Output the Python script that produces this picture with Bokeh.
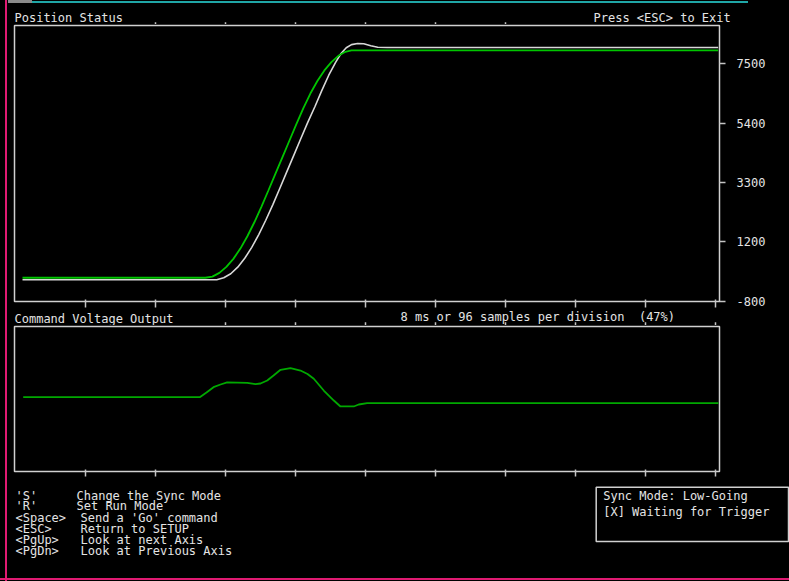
from bokeh.plotting import figure
from bokeh.models import LinearAxis, FixedTicker, Range1d, GlobalInlineStyleSheet
from bokeh.layouts import column
from bokeh.embed import file_html
from bokeh.resources import INLINE
from bokeh.core.properties import value

# ---------------- data ----------------
# Position status (counts) vs time (ms)
cmd_time_ms = [0.8, 21.7, 22.5, 23.3, 24.1, 24.9, 25.7, 26.5, 27.3, 28.1, 28.9, 29.7, 30.5, 31.3,
               32.1, 32.9, 33.7, 34.5, 35.3, 36.1, 36.9, 37.7, 38.4, 80.3]
cmd_position = [20, 20, 60, 190, 400, 680, 1040, 1470, 1960, 2500, 3070, 3650, 4230, 4810,
                5390, 5950, 6460, 6900, 7270, 7560, 7780, 7920, 7966, 7966]

act_time_ms = [0.8, 23.0, 23.8, 24.6, 25.4, 26.2, 27.0, 27.8, 28.6, 29.4, 30.2, 31.0, 31.8, 32.6,
               33.4, 34.2, 35.0, 35.8, 36.6, 37.2, 37.8, 38.4, 39.1, 39.8, 40.6, 41.4, 42.5, 80.3]
act_position = [-50, -50, 20, 160, 390, 700, 1080, 1530, 2030, 2570, 3140, 3720, 4300, 4880,
                5450, 5990, 6560, 7100, 7560, 7860, 8060, 8170, 8210, 8200, 8130, 8080, 8070, 8070]

# Command voltage output (V) vs time (ms)
volt_time_ms = [0.88, 21.06, 21.83, 22.63, 23.43, 24.19, 26.48, 27.43, 28.0, 28.77, 29.49, 30.29,
                31.43, 32.57, 33.37, 34.09, 35.23, 36.38, 37.14, 38.66, 39.23, 40.19, 80.34]
volt_output = [0.25, 0.25, 0.90, 1.63, 2.00, 2.28, 2.23, 2.04, 2.14, 2.55, 3.24, 4.03,
               4.25, 3.93, 3.45, 2.79, 1.17, -0.21, -1.03, -1.03, -0.76, -0.58, -0.58]

x_division_ticks = [8, 16, 24, 32, 40, 48, 56, 64, 72, 80]
top_edge_ticks_1 = [16, 24, 32, 40, 48, 56]          # visible top ticks, position panel
top_edge_ticks_2 = [24, 32, 40, 48, 56, 64, 72, 80]  # visible top ticks, voltage panel
pos_tick_values = [-800, 1275, 3350, 5425, 7500]
pos_tick_labels = ["-800", "1200", "3300", "5400", "7500"]

panel_titles = ["Position Status", "Press <ESC> to Exit"]
mid_texts = ["8 ms or 96 samples per division \u00a0(47%)", "Command Voltage Output"]
help_keys = ["'S'", "'R'", "<Space>", "<ESC>", "<PgUp>", "<PgDn>"]
help_desc = ["Change the Sync Mode", "Set Run Mode", "Send a 'Go' command",
             "Return to SETUP", "Look at next Axis", "Look at Previous Axis"]
status_lines = ["Sync Mode: Low-Going", "[X] Waiting for Trigger"]

# ---------------- styles ----------------
FONT = "DejaVu Sans Mono"
FS = "12px"
TXT = "#e4e4e4"
FRAME = "#d0d0d0"
TICK = "#c4c4c4"
GREEN = "#00c400"
GREEN2 = "#00a800"
WHITE = "#d8d8d8"
W = 789
BASE_SHIFT = 3.7   # renderer places the alphabetic baseline this much lower


# reference-pixel helpers (layout only)
def px2t(X):
    return (X - 15.0) / 8.75

def px2v1(Y):
    return -800 + (300.7 - Y) / 0.028602

def px2v2(Y):
    return 10 - (Y - 326.0) * 20 / 145.0


def base_fig(height, xr, yr, top, bottom, left, right, outline=True, bg="black", align=True):
    kw = {} if align else {"frame_align": False}
    f = figure(width=W, height=height, x_range=xr, y_range=yr,
               x_axis_location=None, y_axis_location=None,
               toolbar_location=None, output_backend="svg",
               min_border_top=top, min_border_bottom=bottom,
               min_border_left=left, min_border_right=right,
               background_fill_color=bg, border_fill_color=None,
               outline_line_color=FRAME if outline else None, outline_line_width=1.5, **kw)
    f.grid.visible = False
    return f


def tick_axis(ticks, out, inn):
    return LinearAxis(ticker=FixedTicker(ticks=ticks, minor_ticks=[]),
                      axis_line_color=None, major_tick_out=out, major_tick_in=inn,
                      major_tick_line_color=TICK, major_tick_line_width=1.5,
                      minor_tick_line_color=None, minor_tick_out=0, minor_tick_in=0,
                      major_label_text_font_size="0px",
                      major_label_text_color=None, major_label_standoff=0)


def texts(fig, xs, baselines, labels):
    fig.text(x=xs, y=[b - BASE_SHIFT for b in baselines], text=labels, text_font=value(FONT),
             text_font_size=FS, text_color=TXT, text_baseline="alphabetic", text_align="left")


def edge_ticks(fig, ticks, y0, y1):
    fig.segment(x0=ticks, y0=[y0] * len(ticks), x1=ticks, y1=[y1] * len(ticks),
                line_color=TICK, line_width=1.5)


full_x = Range1d(px2t(0), px2t(789))

# ---------------- strip above the top panel (titles + top ticks) ----------------
sA = base_fig(24, full_x, Range1d(24, 0), 0, 0, 0, 0, outline=False, bg=None, align=False)
edge_ticks(sA, top_edge_ticks_1, 21.7, 24)
texts(sA, [px2t(14), px2t(593)], [21.2, 21.2], panel_titles)

# ---------------- top panel: position status ----------------
p1 = base_fig(285, Range1d(px2t(14), px2t(719)), Range1d(px2v1(301), px2v1(25)), 1, 8, 14, 70)
p1.add_layout(tick_axis(x_division_ticks, 6, 2), "below")
ry = LinearAxis(ticker=FixedTicker(ticks=pos_tick_values, minor_ticks=[]),
                major_label_overrides={v: l for v, l in zip(pos_tick_values, pos_tick_labels)},
                axis_line_color=None, major_tick_out=6, major_tick_in=0,
                major_tick_line_color=TICK, major_tick_line_width=1.5,
                minor_tick_line_color=None, minor_tick_out=0, minor_tick_in=0,
                major_label_text_color=TXT,
                major_label_text_font=FONT, major_label_text_font_size=FS,
                major_label_standoff=11)
p1.add_layout(ry, "right")
p1.line(act_time_ms, act_position, line_color=WHITE, line_width=1.6)
p1.line(cmd_time_ms, cmd_position, line_color=GREEN, line_width=1.8)

# ---------------- strip between panels ----------------
sB = base_fig(16, full_x, Range1d(325, 309), 0, 0, 0, 0, outline=False, bg=None, align=False)
edge_ticks(sB, top_edge_ticks_2, 321.7, 325)
texts(sB, [px2t(400), px2t(14)], [320.1, 322.2], mid_texts)

# ---------------- middle panel: command voltage ----------------
p2 = base_fig(152, Range1d(px2t(14), px2t(719)), Range1d(px2v2(471), px2v2(326)), 1, 6, 14, 70)
p2.add_layout(tick_axis(x_division_ticks, 5, 2), "below")
p2.line(volt_time_ms, volt_output, line_color=GREEN2, line_width=1.8)

# ---------------- bottom: help text and status box ----------------
p3 = base_fig(104, Range1d(0, 789), Range1d(581, 477), 0, 0, 0, 0, outline=False, bg=None, align=False)
help_y = [499, 509.5, 520.7, 531.7, 542.7, 554]
texts(p3, [15] * len(help_keys), help_y, help_keys)
texts(p3, [76, 76, 80, 80, 80, 80], help_y, help_desc)
p3.quad(left=[595.7], right=[788], top=[486.7], bottom=[541], fill_color=None,
        line_color=FRAME, line_width=1.5)
texts(p3, [602.7, 602.7], [499, 515.5], status_lines)

css = GlobalInlineStyleSheet(css="""
html {
  min-height: 100%;
  background-color: #000;
  background-image: linear-gradient(#e01a72,#e01a72), linear-gradient(#e01a72,#e01a72),
                    linear-gradient(#1fa6a6,#1fa6a6), linear-gradient(#8a8a8a,#8a8a8a);
  background-repeat: no-repeat;
  background-size: 2px 100%, 100% 2px, 716px 2px, 24px 3px;
  background-position: 5px 0, 0 578px, 32px 1px, 8px 0;
}
body { background: transparent; }
""")

p = column(sA, p1, sB, p2, p3, spacing=0, stylesheets=[css])

open("out.html", "w").write(file_html(p, INLINE))
